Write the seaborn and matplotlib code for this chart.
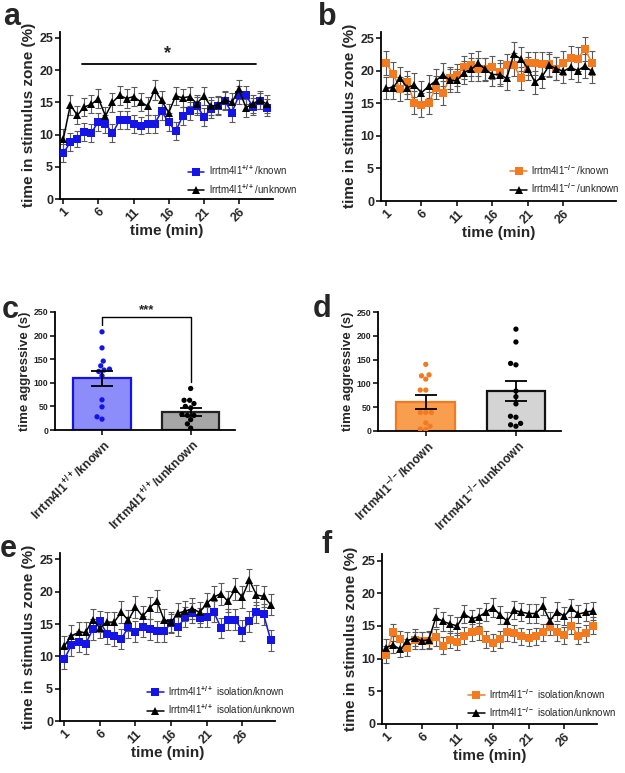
import numpy as np
import pandas as pd
import matplotlib
matplotlib.use("Agg")
import matplotlib.pyplot as plt
import seaborn as sns

# ---- data ----
minutes = list(range(1, 31))

a_known = [7.1, 8.8, 9.3, 10.4, 10.3, 12.0, 11.7, 10.2, 12.2, 12.2, 11.6, 11.4, 11.7, 11.7, 13.6,
           11.9, 10.5, 12.9, 13.7, 14.5, 12.8, 13.9, 14.4, 15.2, 13.4, 16.1, 16.1, 14.3, 15.2, 14.2]
a_known_sem = [1.4, 1.4, 1.3, 1.4, 1.4, 1.4, 1.4, 1.4, 1.4, 1.4, 1.4, 1.3, 1.4, 1.4, 1.4,
               1.4, 1.4, 1.4, 1.4, 1.4, 1.4, 1.4, 1.4, 1.4, 1.4, 1.4, 1.4, 1.3, 1.3, 1.3]
a_unknown = [9.3, 14.6, 13.0, 14.3, 14.7, 15.6, 12.9, 15.0, 16.1, 15.6, 15.9, 15.1, 14.4, 16.9, 15.3,
             13.4, 16.0, 15.7, 15.9, 14.8, 16.0, 14.4, 14.6, 15.4, 15.0, 17.0, 14.2, 14.8, 15.4, 14.7]
a_unknown_sem = [1.5, 1.5, 1.4, 1.4, 1.4, 1.5, 1.4, 1.5, 1.5, 1.4, 1.5, 1.4, 1.4, 1.5, 1.4,
                 1.4, 1.4, 1.4, 1.5, 1.4, 1.4, 1.4, 1.4, 1.4, 1.4, 1.5, 1.4, 1.4, 1.4, 1.4]

b_known = [21.2, 19.5, 17.2, 18.2, 15.1, 14.7, 15.0, 17.4, 16.6, 18.9, 19.3, 20.5, 20.9, 20.2, 20.2,
           20.5, 19.8, 20.8, 20.9, 18.8, 21.1, 21.1, 21.0, 21.0, 20.3, 21.2, 21.9, 21.8, 23.3, 21.2]
b_known_sem = [1.8, 1.8, 1.8, 1.8, 1.8, 1.8, 1.7, 1.8, 1.8, 1.7, 1.7, 1.8, 1.8, 1.8, 1.7,
               1.8, 1.8, 1.8, 1.8, 1.8, 1.8, 1.8, 1.8, 1.8, 1.8, 1.8, 1.8, 1.8, 1.9, 1.8]
b_unknown = [17.3, 17.4, 18.8, 17.4, 17.8, 16.6, 17.6, 18.4, 19.4, 18.5, 18.5, 19.7, 20.2, 21.1, 20.2,
             19.4, 19.4, 18.8, 22.5, 21.8, 20.3, 18.2, 19.1, 20.8, 20.3, 19.9, 20.5, 20.0, 20.7, 19.9]
b_unknown_sem = [1.7, 1.8, 1.8, 1.8, 1.8, 1.8, 1.8, 1.8, 1.8, 1.8, 1.8, 1.8, 1.8, 1.9, 1.8,
                 1.8, 1.8, 1.8, 1.9, 1.8, 1.8, 1.8, 1.8, 1.8, 1.8, 1.8, 1.8, 1.8, 1.8, 1.8]

e_known = [9.6, 11.7, 12.3, 11.9, 14.2, 15.4, 13.5, 13.2, 12.7, 14.5, 13.8, 14.6, 14.2, 13.9, 13.9,
           15.1, 14.6, 16.1, 16.7, 16.0, 16.1, 16.9, 14.4, 15.7, 15.7, 14.0, 15.4, 16.8, 16.5, 12.5]
e_known_sem = [1.6, 1.6, 1.6, 1.6, 1.6, 1.6, 1.6, 1.6, 1.6, 1.6, 1.6, 1.6, 1.6, 1.6, 1.6,
               1.5, 1.5, 1.5, 1.5, 1.5, 1.6, 1.6, 1.6, 1.6, 1.6, 1.6, 1.6, 1.6, 1.6, 1.6]
e_unknown = [11.6, 13.2, 13.7, 13.7, 15.7, 14.4, 15.3, 15.3, 16.8, 15.6, 17.6, 16.2, 17.5, 18.6, 15.7,
             15.3, 16.7, 17.0, 17.4, 16.8, 18.2, 19.2, 19.7, 18.5, 20.4, 19.2, 21.8, 19.5, 19.3, 18.0]
e_unknown_sem = [1.6, 1.6, 1.6, 1.6, 1.6, 1.6, 1.6, 1.6, 1.7, 1.6, 1.7, 1.6, 1.7, 1.7, 1.6,
                 1.6, 1.6, 1.6, 1.6, 1.6, 1.6, 1.7, 1.7, 1.6, 1.7, 1.7, 1.7, 1.6, 1.6, 1.6]

f_known = [10.6, 14.0, 13.0, 11.7, 12.8, 12.7, 12.7, 13.3, 12.0, 12.9, 12.6, 13.5, 14.0, 14.2, 13.0,
           12.4, 13.0, 14.0, 13.9, 13.4, 13.2, 13.4, 14.0, 14.9, 14.0, 13.6, 15.0, 13.5, 13.9, 15.0]
f_known_sem = [1.3, 1.3, 1.3, 1.3, 1.3, 1.3, 1.3, 1.3, 1.3, 1.3, 1.3, 1.3, 1.3, 1.3, 1.3,
               1.3, 1.3, 1.3, 1.3, 1.3, 1.3, 1.3, 1.3, 1.3, 1.3, 1.3, 1.3, 1.3, 1.3, 1.3]
f_unknown = [11.7, 12.1, 11.4, 12.7, 13.2, 12.7, 12.9, 16.3, 15.7, 15.3, 15.0, 16.8, 16.1, 16.4, 17.1,
             17.8, 16.7, 15.7, 17.4, 17.1, 16.9, 16.9, 18.0, 15.8, 17.2, 16.5, 17.7, 16.8, 17.1, 17.3]
f_unknown_sem = [1.3, 1.3, 1.2, 1.3, 1.3, 1.3, 1.3, 1.4, 1.4, 1.4, 1.4, 1.4, 1.4, 1.4, 1.4,
                 1.4, 1.4, 1.4, 1.4, 1.4, 1.4, 1.4, 1.4, 1.4, 1.4, 1.4, 1.4, 1.4, 1.4, 1.4]

c_labels = [r"lrrtm4l1$^{+/+}$/known", r"lrrtm4l1$^{+/+}$/unknown"]
c_means = [110, 38]
c_sems = [16, 8]
c_known_pts = [208, 174, 146, 136, 129, 127, 124, 115, 64, 49, 28, 23]
c_unknown_pts = [88, 63, 63, 56, 50, 47, 33, 31, 31, 22, 13, 4]

d_labels = [r"lrrtm4l1$^{-/-}$/known", r"lrrtm4l1$^{-/-}$/unknown"]
d_means = [61, 83]
d_sems = [14, 21]
d_known_pts = [140, 118, 116, 109, 86, 86, 39, 39, 39, 17, 10, 4, 3]
d_unknown_pts = [214, 187, 142, 139, 84, 72, 57, 31, 29, 16, 13, 10]

BLUE = "#1414e6"
ORANGE = "#f47a20"
ERR = "#5a5a5a"

sns.set_theme(style="ticks")
plt.rcParams["font.family"] = ["Liberation Sans", "DejaVu Sans"]
plt.rcParams["font.weight"] = "bold"
plt.rcParams["axes.labelweight"] = "bold"
plt.rcParams["mathtext.fontset"] = "custom"
plt.rcParams["mathtext.rm"] = "Liberation Sans"
plt.rcParams["mathtext.bf"] = "Liberation Sans:bold"

W, H = 625, 773
fig = plt.figure(figsize=(W / 100, H / 100), dpi=100)


def box(left, top, right, bottom):
    return [left / W, 1 - bottom / H, (right - left) / W, (bottom - top) / H]


def style_axis(ax, labelsize):
    sns.despine(ax=ax)
    for s in ["left", "bottom"]:
        ax.spines[s].set_linewidth(1.3)
        ax.spines[s].set_color("black")
    ax.tick_params(axis="both", length=3.5, width=1.1, color="black",
                   labelsize=labelsize, pad=1.5)
    for lab in ax.get_xticklabels() + ax.get_yticklabels():
        lab.set_fontweight("bold")


def time_panel(ax, known, known_sem, unknown, unknown_sem, color, labels, xlim, anchor):
    df = pd.DataFrame({
        "minute": minutes * 2,
        "value": known + unknown,
        "group": [labels[0]] * len(minutes) + [labels[1]] * len(minutes),
    })
    for vals, sems in [(known, known_sem), (unknown, unknown_sem)]:
        ax.errorbar(minutes, vals, yerr=sems, fmt="none", ecolor=ERR, elinewidth=0.8,
                    capsize=2.2, capthick=0.8, zorder=1)
    sns.lineplot(data=df, x="minute", y="value", hue="group", style="group",
                 palette=[color, "black"], markers=["s", "^"], dashes=False,
                 markersize=5.2, markeredgewidth=0, linewidth=1.1, ax=ax, zorder=3)
    ax.set_xlim(*xlim)
    ax.set_ylim(0, 26)
    ax.set_yticks([0, 5, 10, 15, 20, 25])
    ax.set_xticks([1, 6, 11, 16, 21, 26])
    ax.set_xlabel("time (min)", fontsize=11, fontweight="bold", labelpad=0)
    ax.set_ylabel("time in stimulus zone (%)", fontsize=11, fontweight="bold", labelpad=2)
    style_axis(ax, 9)
    plt.setp(ax.get_xticklabels(), rotation=45, ha="right", rotation_mode="anchor")
    ax.legend(frameon=False, loc="lower left", bbox_to_anchor=anchor, borderpad=0,
              borderaxespad=0, handlelength=1.7, handletextpad=0.45, labelspacing=0.45,
              prop={"size": 7, "weight": "normal"})


def bar_panel(ax, labels, means, sems, known_pts, unknown_pts, fills, edges, dots):
    sns.barplot(x=labels, y=means, hue=labels, palette=fills, width=0.65, linewidth=1.6,
                saturation=1, errorbar=None, legend=False, ax=ax, zorder=1)
    for patch, ec in zip(ax.patches, edges):
        patch.set_edgecolor(ec)
    pts = pd.DataFrame({
        "group": [labels[0]] * len(known_pts) + [labels[1]] * len(unknown_pts),
        "value": known_pts + unknown_pts,
    })
    sns.swarmplot(data=pts, x="group", y="value", hue="group", order=labels,
                  hue_order=labels, palette=dots, size=3.8, legend=False, ax=ax, zorder=3)
    ax.errorbar([0, 1], means, yerr=sems, fmt="none", ecolor="black", elinewidth=1.3,
                capsize=8, capthick=1.3, zorder=4)
    ax.set_xlim(-0.53, 1.5)
    ax.set_ylim(0, 250)
    ax.set_yticks([0, 50, 100, 150, 200, 250])
    ax.set_xlabel("")
    ax.set_ylabel("time aggressive (s)", fontsize=9.5, fontweight="bold", labelpad=2)
    style_axis(ax, 6.3)
    ax.tick_params(axis="x", labelsize=8.8)
    plt.setp(ax.get_xticklabels(), rotation=45, ha="right", rotation_mode="anchor")


# a
ax_a = fig.add_axes(box(60, 31.5, 273, 199))
time_panel(ax_a, a_known, a_known_sem, a_unknown, a_unknown_sem, BLUE,
           [r"lrrtm4l1$^{+/+}$/known", r"lrrtm4l1$^{+/+}$/unknown"],
           (0.53, 30.85), (0.6, 0.02))
ax_a.plot([3.7, 28.4], [20.9, 20.9], color="black", lw=1.3)
ax_a.text(15.9, 21.3, "*", ha="center", va="bottom", fontsize=13, fontweight="bold")

# b
ax_b = fig.add_axes(box(381, 31.5, 616, 201))
time_panel(ax_b, b_known, b_known_sem, b_unknown, b_unknown_sem, ORANGE,
           [r"lrrtm4l1$^{-/-}$/known", r"lrrtm4l1$^{-/-}$/unknown"],
           (0.3, 33.4), (0.55, 0.035))

# c
ax_c = fig.add_axes(box(55, 312, 235, 430))
bar_panel(ax_c, c_labels, c_means, c_sems, c_known_pts, c_unknown_pts,
          ["#8c8cfa", "#a6a6a6"], [BLUE, "#222222"], [BLUE, "black"])
ax_c.plot([0, 0, 1, 1], [222, 239, 239, 101], color="black", lw=1.0, clip_on=False)
ax_c.text(0.5, 241, "***", ha="center", va="bottom", fontsize=9.5, fontweight="bold")

# d
ax_d = fig.add_axes(box(378, 312, 561, 431))
bar_panel(ax_d, d_labels, d_means, d_sems, d_known_pts, d_unknown_pts,
          ["#f99e4e", "#d4d4d4"], [ORANGE, "#111111"], [ORANGE, "black"])

# e
ax_e = fig.add_axes(box(60, 553, 275, 721))
time_panel(ax_e, e_known, e_known_sem, e_unknown, e_unknown_sem, BLUE,
           [r"lrrtm4l1$^{+/+}$ isolation/known", r"lrrtm4l1$^{+/+}$ isolation/unknown"],
           (0.4, 30.6), (0.405, 0.03))

# f
ax_f = fig.add_axes(box(382, 554, 597, 724))
time_panel(ax_f, f_known, f_known_sem, f_unknown, f_unknown_sem, ORANGE,
           [r"lrrtm4l1$^{-/-}$ isolation/known", r"lrrtm4l1$^{-/-}$ isolation/unknown"],
           (0.44, 30.6), (0.4, 0.03))

# panel letters
for letter, x, y in [("a", 3, 25), ("b", 318, 25), ("c", 2, 318), ("d", 313, 317),
                     ("e", 0, 557), ("f", 322, 553)]:
    fig.text(x / W, 1 - y / H, letter, fontsize=22, fontweight="bold", ha="left", va="baseline")

fig.savefig("out.png", dpi=100)
